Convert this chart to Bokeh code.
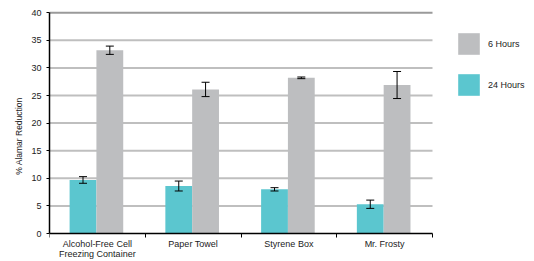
from bokeh.plotting import figure
from bokeh.models import (ColumnDataSource, Range1d, FixedTicker, Whisker, TeeHead,
                          Legend, LegendItem)
from bokeh.embed import file_html
from bokeh.resources import INLINE

categories = ["Alcohol-Free Cell\nFreezing Container", "Paper Towel", "Styrene Box", "Mr. Frosty"]
h24_values = [9.7, 8.6, 8.0, 5.3]
h24_errors = [0.6, 0.9, 0.3, 0.75]
h6_values = [33.2, 26.1, 28.2, 26.9]
h6_errors = [0.75, 1.3, 0.15, 2.45]
y_ticks = [0, 5, 10, 15, 20, 25, 30, 35, 40]

TEAL = "#5BC6CF"
GRAY = "#BDBEC0"
FONT = "Liberation Sans"

# layout constants (pixels)
FIG_W, FIG_H = 534, 261
LEFT, TOP, BOTTOM = 49, 10, 28
CAT_SPAN = 383  # pixel width covered by the categories
Y_PAD = 0.4

n = len(categories)
idx = list(range(n))
src24 = ColumnDataSource(dict(
    x=[i + 0.35 for i in idx], top=h24_values,
    upper=[v + e for v, e in zip(h24_values, h24_errors)],
    lower=[v - e for v, e in zip(h24_values, h24_errors)]))
src6 = ColumnDataSource(dict(
    x=[i + 0.63 for i in idx], top=h6_values,
    upper=[v + e for v, e in zip(h6_values, h6_errors)],
    lower=[v - e for v, e in zip(h6_values, h6_errors)]))

x_end = n * (FIG_W - LEFT) / CAT_SPAN
ppu = (FIG_H - TOP - BOTTOM) / (y_ticks[-1] + Y_PAD)
y_start = -BOTTOM / ppu
p = figure(width=FIG_W, height=FIG_H, output_backend="svg", toolbar_location=None,
           x_range=Range1d(0, x_end), y_range=Range1d(y_start, y_ticks[-1] + Y_PAD),
           min_border_left=LEFT, min_border_right=0, min_border_top=TOP,
           min_border_bottom=0)
p.outline_line_color = None
p.background_fill_color = "white"
p.xgrid.visible = False
p.ygrid.visible = False

# gridlines limited to the category span
grid_src = ColumnDataSource(dict(y=y_ticks[1:-1], x0=[0] * (len(y_ticks) - 2),
                                 x1=[n] * (len(y_ticks) - 2)))
p.segment(x0="x0", x1="x1", y0="y", y1="y", source=grid_src,
          line_color="#BFBFBF", line_width=2)
p.segment(x0=[0], x1=[n], y0=[y_ticks[-1]], y1=[y_ticks[-1]],
          line_color="#9A9A9A", line_width=2)

r24 = p.vbar(x="x", top="top", width=0.28, source=src24, fill_color=TEAL, line_color=None)
r6 = p.vbar(x="x", top="top", width=0.28, source=src6, fill_color=GRAY, line_color=None)

for s in (src24, src6):
    w = Whisker(source=s, base="x", upper="upper", lower="lower",
                line_color="black", line_width=1, level="overlay",
                upper_head=TeeHead(size=8, line_color="black", line_width=1),
                lower_head=TeeHead(size=8, line_color="black", line_width=1))
    p.add_layout(w)

xa = p.xaxis[0]
xa.fixed_location = 0
xa.bounds = (0, n)
xa.ticker = FixedTicker(ticks=[i + 0.5 for i in idx], minor_ticks=list(range(n + 1)))
xa.major_label_overrides = {i + 0.5: c for i, c in zip(idx, categories)}
xa.major_tick_out = 0
xa.major_tick_in = 0
xa.minor_tick_out = 4
xa.minor_tick_in = 0
xa.minor_tick_line_color = "black"
xa.axis_line_color = "black"
xa.axis_line_width = 1.5
xa.major_label_text_font = FONT
xa.major_label_text_font_size = "9px"
xa.major_label_text_color = "#222222"
xa.major_label_text_line_height = 1.05
xa.major_label_standoff = 1

ya = p.yaxis[0]
ya.bounds = (y_ticks[0], y_ticks[-1])
ya.ticker = FixedTicker(ticks=y_ticks)
ya.axis_line_color = "black"
ya.axis_line_width = 1.5
ya.major_tick_out = 3
ya.major_tick_in = 0
ya.major_tick_line_color = "black"
ya.minor_tick_line_color = None
ya.major_label_text_font = FONT
ya.major_label_text_font_size = "9px"
ya.major_label_text_color = "#222222"
ya.major_label_standoff = 5
ya.axis_label = "% Alamar Reduction"
ya.axis_label_text_font = FONT
ya.axis_label_text_font_size = "8.5px"
ya.axis_label_text_font_style = "normal"
ya.axis_label_text_color = "#222222"
ya.axis_label_standoff = 4

legend = Legend(items=[LegendItem(label="6 Hours", renderers=[r6]),
                       LegendItem(label="24 Hours", renderers=[r24])],
                location=(406, 163), glyph_width=27, glyph_height=27, spacing=14,
                label_standoff=6, padding=0, margin=0, border_line_color=None,
                background_fill_alpha=0, label_text_font=FONT,
                label_text_font_size="9px", label_text_color="#222222")
p.add_layout(legend)

open("out.html", "w").write(file_html(p, INLINE))
